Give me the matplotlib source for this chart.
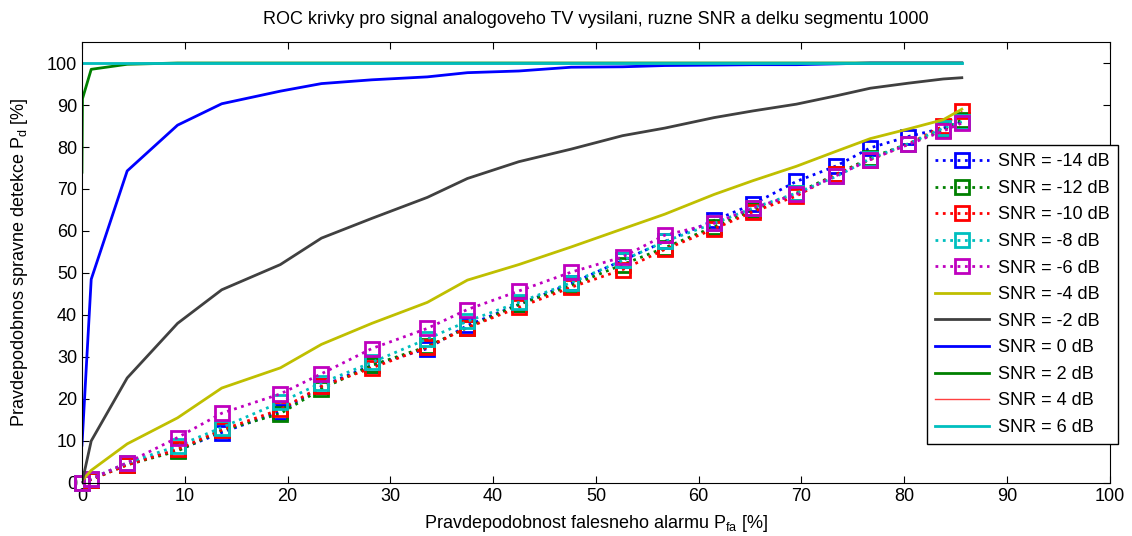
import matplotlib
matplotlib.use("Agg")
import matplotlib.pyplot as plt

plt.rcParams['font.family'] = ['Liberation Sans', 'DejaVu Sans']
plt.rcParams['mathtext.default'] = 'regular'

# false alarm probabilities [%] shared by most curves
pfa = [0, 0.9, 4.4, 9.3, 13.6, 19.3, 23.3, 28.2, 33.6, 37.5, 42.5, 47.6,
       52.6, 56.7, 61.5, 65.3, 69.5, 73.4, 76.7, 80.4, 83.8, 85.6]
pfa_2db = [0, 0.05, 0.9, 4.4, 9.3, 13.6, 19.3, 23.3, 28.2, 33.6, 37.5, 42.5, 47.6,
           52.6, 56.7, 61.5, 65.3, 69.5, 73.4, 76.7, 80.4, 83.8, 85.6]

pd_m14 = [0, 0.8, 4.5, 7.8, 12, 17, 23, 28, 32, 37.5, 42.5, 47.5,
          53, 57.5, 62.5, 66.4, 71.8, 75.5, 79.8, 82.5, 84.5, 86]
pd_m12 = [0, 0.8, 4.3, 7.6, 12.5, 16.5, 22.4, 28, 32.5, 37, 42.5, 47,
          52, 56, 61, 65, 69, 73.5, 77.4, 80.8, 84, 86.5]
pd_m10 = [0, 0.8, 4.3, 8, 12.6, 17.5, 23, 27.4, 32.3, 37, 41.8, 46.6,
          50.8, 55.6, 60.5, 64.6, 68.3, 73.5, 77, 80.7, 85, 88.6]
pd_m8 = [0, 1, 4.8, 8.8, 13.2, 19.2, 23.8, 28.7, 34.3, 38.5, 43, 47.7,
         53, 57.5, 61.8, 65.5, 69, 73, 77.2, 80.8, 84.5, 86]
pd_m6 = [0, 1, 4.8, 10.8, 16.6, 21.2, 26, 32, 36.8, 41.3, 45.7, 50.2,
         53.8, 59, 61.8, 65.5, 68.7, 73.2, 77, 80.6, 83.8, 85.7]
pd_m4 = [0.5, 3, 9.3, 15.5, 22.6, 27.4, 33, 38, 43, 48.3, 52, 56.2,
         60.5, 64, 68.7, 72, 75.4, 79, 82, 84.3, 86.5, 89]
pd_m2 = [0, 10, 25, 38, 46, 52, 58.3, 63, 68, 72.5, 76.5, 79.5,
         82.7, 84.5, 87, 88.6, 90.2, 92.2, 94, 95.2, 96.2, 96.5]
pd_0 = [9, 48.5, 74.3, 85.2, 90.3, 93.3, 95.1, 96, 96.7, 97.7, 98.1, 99,
        99.1, 99.4, 99.5, 99.6, 99.6, 99.8, 100, 100, 100, 100]
pd_2 = [74, 91.5, 98.5, 99.7, 100, 100, 100, 100, 100, 100, 100, 100, 100,
        100, 100, 100, 100, 100, 100, 100, 100, 100, 100]
pd_4 = [100] * 22
pd_6 = [100] * 22

fig = plt.figure(figsize=(11.32, 5.36), dpi=100)
ax = fig.add_axes([0.0724, 0.099, 0.908, 0.8226])

mk = dict(linestyle=':', linewidth=2, marker='s', markersize=9.5,
          markerfacecolor='none', markeredgewidth=2, clip_on=False)
ax.plot(pfa, pd_m14, color='#0000ff', label='SNR = -14 dB', **mk)
ax.plot(pfa, pd_m12, color='#008000', label='SNR = -12 dB', **mk)
ax.plot(pfa, pd_m10, color='#ff0000', label='SNR = -10 dB', **mk)
ax.plot(pfa, pd_m8, color='#00bfbf', label='SNR = -8 dB', **mk)
ax.plot(pfa, pd_m6, color='#bf00bf', label='SNR = -6 dB', **mk)
ax.plot(pfa, pd_m4, color='#bfbf00', lw=2, label='SNR = -4 dB')
ax.plot(pfa, pd_m2, color='#404040', lw=2, label='SNR = -2 dB')
ax.plot(pfa, pd_0, color='#0000ff', lw=2, label='SNR = 0 dB')
ax.plot(pfa_2db, pd_2, color='#008000', lw=2, label='SNR = 2 dB')
ax.plot(pfa, pd_4, color='#ff4040', lw=1, label='SNR = 4 dB')
ax.plot(pfa, pd_6, color='#00bfbf', lw=2, label='SNR = 6 dB')

ax.set_xlim(0, 100)
ax.set_ylim(0, 105)
ax.set_xticks(range(0, 101, 10))
ax.set_yticks(range(0, 101, 10))
ax.tick_params(direction='in', top=True, right=True, labelsize=13, length=5)
ax.set_title('ROC krivky pro signal analogoveho TV vysilani, ruzne SNR a delku segmentu 1000',
             fontsize=13, pad=13)
ax.set_xlabel('Pravdepodobnost falesneho alarmu P$_{fa}$ [%]', fontsize=13, labelpad=6)
ax.set_ylabel('Pravdepodobnos spravne detekce P$_d$ [%]', fontsize=13, labelpad=12)

leg = ax.legend(loc='upper right', bbox_to_anchor=(1.008, 0.766), borderaxespad=0,
                fontsize=13, handlelength=3, handletextpad=0.5, labelspacing=0.53,
                borderpad=0.45, fancybox=False, edgecolor='black', framealpha=1,
                numpoints=1)
leg.get_frame().set_linewidth(1)

fig.savefig('out.png', dpi=100)
